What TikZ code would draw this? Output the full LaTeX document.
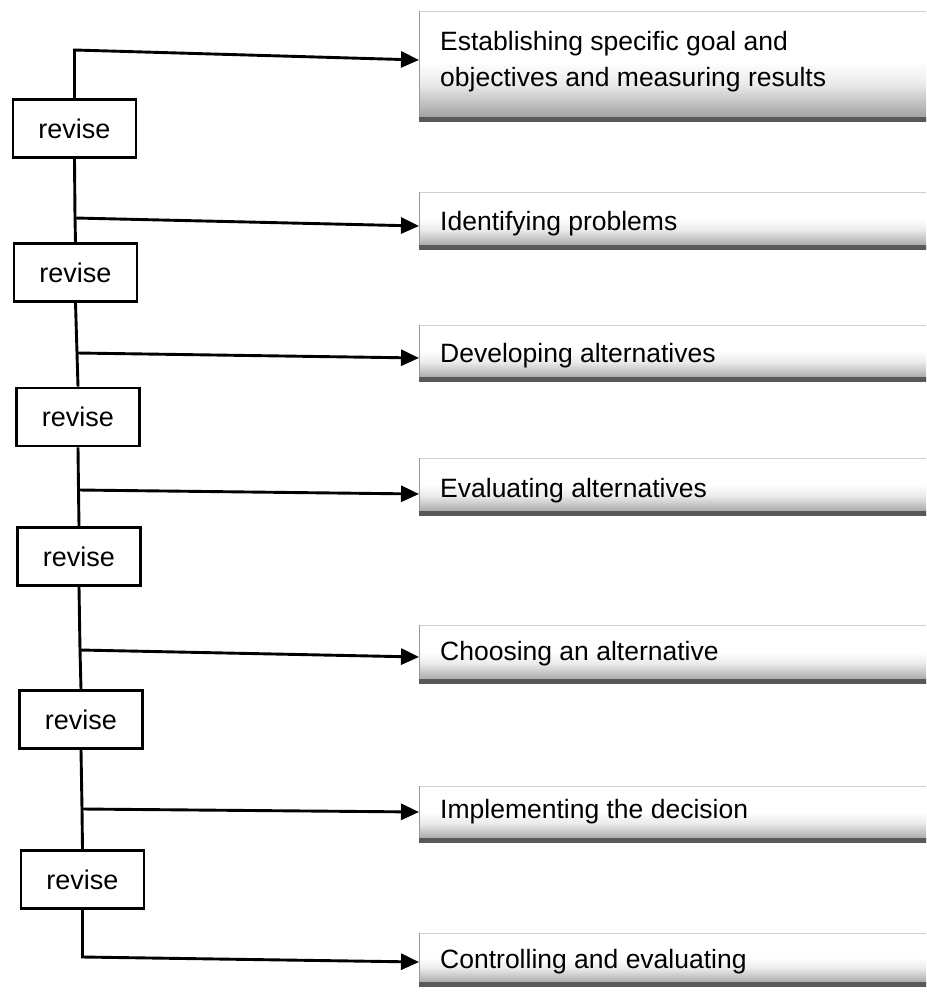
\documentclass[tikz,border=0pt]{standalone}
\usepackage{fontspec}
\setmainfont{Liberation Sans}
\usetikzlibrary{arrows.meta}
% panel fill: white over most of the height, greying towards the foot
\pgfdeclareverticalshading{stepfade}{100bp}{%
  color(0bp)=(black!40); color(25bp)=(black!40); color(42bp)=(black!8);
  color(52bp)=(white); color(100bp)=(white)}
\begin{document}
\begin{tikzpicture}[x=1pt,y=-1pt,
  link/.style={line width=2.9pt, line join=miter},
  flow/.style={link, -{Triangle[length=18pt,width=16pt]}},
  revbox/.style={draw, line width=2.6pt, minimum width=123pt, minimum height=58pt,
    inner sep=0pt, font=\fontsize{27}{32}\selectfont},
  stepbox/.style={minimum width=540pt, inner sep=0pt, anchor=north west,
    shading=stepfade},
  stepedge/.style={line width=4.5pt, black!65},
  stepside/.style={line width=0.8pt, black!40},
  steptop/.style={line width=0.8pt, black!18},
  steptext/.style={font=\fontsize{26.5}{36}\selectfont, inner sep=0pt, align=left},
]
\path[use as bounding box] (0,0) rectangle (926,992);
\clip (0,0) rectangle (926,992);

% step boxes: shaded panels running off to the right
\foreach \n/\top/\h in {1/11/110, 2/192/57, 3/325/56, 4/458/57, 5/625/58, 6/786/56, 7/933/53} {
  \node[stepbox, minimum height=\h pt] (s\n) at (419,\top) {};
  \draw[steptop] (s\n.north west) -- (s\n.north east);
  \draw[stepside] (s\n.north west) -- (s\n.south west);
  \draw[stepedge] ([yshift=2pt]s\n.south west) -- ([yshift=2pt]s\n.south east);
}

% step labels
\node[steptext, anchor=north west] (t1) at (440,31)
  {Establishing specific goal and\\objectives and measuring results};
\node[steptext, anchor=base west] (t2) at (440,231) {Identifying problems};
\node[steptext, anchor=base west] (t3) at (440,362) {Developing alternatives};
\node[steptext, anchor=base west] (t4) at (440,497) {Evaluating alternatives};
\node[steptext, anchor=base west] (t5) at (440,660) {Choosing an alternative};
\node[steptext, anchor=base west] (t6) at (440,818) {Implementing the decision};
\node[steptext, anchor=base west] (t7) at (440,968) {Controlling and evaluating};

% revise boxes on the feedback spine
\node[revbox] (r1) at (74.5,128.5) {revise};
\node[revbox] (r2) at (75.5,272.5) {revise};
\node[revbox] (r3) at (78,417) {revise};
\node[revbox] (r4) at (79,556.5) {revise};
\node[revbox] (r5) at (81,719.5) {revise};
\node[revbox] (r6) at (82.5,879.5) {revise};

% junctions on the spine
\coordinate (j0) at (74.5,50);
\coordinate (j1) at (75,218);
\coordinate (j2) at (77,353);
\coordinate (j3) at (78.5,490);
\coordinate (j4) at (80,650);
\coordinate (j5) at (82,809);
\coordinate (j6) at (82.5,957);

% arrow ends on the step boxes
\coordinate (a1) at (419,60);
\coordinate (a2) at (419,226);
\coordinate (a3) at (419,358);
\coordinate (a4) at (419,494);
\coordinate (a5) at (419,657);
\coordinate (a6) at (419,812);
\coordinate (a7) at (419,962);

% spine and branches
\draw[flow] (r1.north) -- (j0) -- (a1);
\draw[link] (r1.south) -- (j1) -- (r2.north);
\draw[flow] (j1) -- (a2);
\draw[link] (r2.south) -- (j2) -- (r3.north);
\draw[flow] (j2) -- (a3);
\draw[link] (r3.south) -- (j3) -- (r4.north);
\draw[flow] (j3) -- (a4);
\draw[link] (r4.south) -- (j4) -- (r5.north);
\draw[flow] (j4) -- (a5);
\draw[link] (r5.south) -- (j5) -- (r6.north);
\draw[flow] (j5) -- (a6);
\draw[flow] (r6.south) -- (j6) -- (a7);
\end{tikzpicture}
\end{document}
